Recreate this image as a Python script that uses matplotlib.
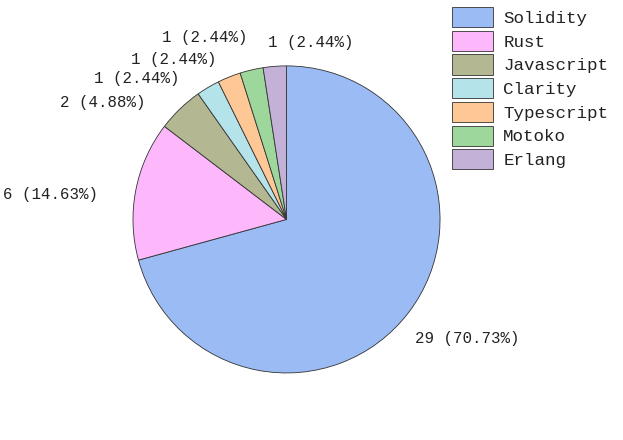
import numpy as np
import matplotlib
matplotlib.use("Agg")
import matplotlib.pyplot as plt

# language counts
languages = ["Solidity", "Rust", "Javascript", "Clarity", "Typescript", "Motoko", "Erlang"]
counts = [29, 6, 2, 1, 1, 1, 1]
colors = ["#9bbbf4", "#fdb8fb", "#b3b792", "#b5e3ea", "#fdc796", "#9ed79c", "#c3b1d8"]

# label placement: (radius, angle shift in degrees, alignment)
label_place = [(1.14, -5.6, "left"), (1.24, 3.6, "right"), (1.19, 6.4, "right"),
               (1.15, 6.5, "right"), (1.14, 1.7, "right"), (1.21, -0.9, "right"),
               (1.16, 1.6, "left")]

plt.rcParams['font.family'] = ['Liberation Mono', 'DejaVu Sans']

fig = plt.figure(figsize=(6.23, 4.4), dpi=100)
ax = fig.add_axes([0.1149, 0.0128, 0.690, 0.977])

total = sum(counts)
wedges, _ = ax.pie(counts, colors=colors, startangle=90, counterclock=False,
                   wedgeprops=dict(edgecolor="#333333", linewidth=0.6))

for w, c, (r, shift, ha) in zip(wedges, counts, label_place):
    mid = np.deg2rad((w.theta1 + w.theta2) / 2 + shift)
    ax.text(r * np.cos(mid), r * np.sin(mid), "%d (%.2f%%)" % (c, c / total * 100),
            ha=ha, va="center", fontsize=11.3, color="#222222")

ax.set_xlim(-1.4, 1.4)
ax.set_ylim(-1.4, 1.4)
ax.set_aspect("equal")
ax.axis("off")

leg = fig.legend(wedges, languages, loc="upper right", bbox_to_anchor=(0.993, 1.008),
                 frameon=False, fontsize=12.6, handlelength=2.35, handleheight=1.4,
                 labelspacing=0.2, handletextpad=0.6, borderaxespad=0.2)
for t in leg.get_texts():
    t.set_color("#222222")

fig.savefig("out.png", dpi=100)
